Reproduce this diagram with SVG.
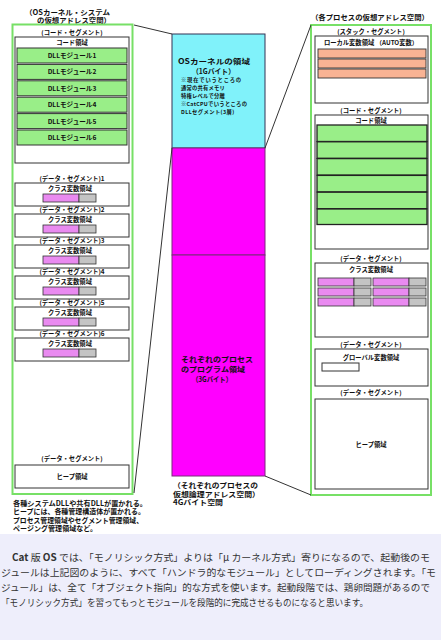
<svg xmlns="http://www.w3.org/2000/svg" width="441" height="640" viewBox="0 0 441 640">
<style>
text{font-family:"Noto Sans CJK JP","Noto Sans",sans-serif;fill:#111;}
.t{font-size:7.2px;font-weight:bold;}
.s{font-size:6.3px;font-weight:bold;text-anchor:middle;}
.m{font-size:6.6px;font-weight:bold;text-anchor:middle;}
.k{font-size:5.3px;font-weight:bold;}
.outer{fill:#fff;stroke:#77E066;stroke-width:2;}
.box{fill:#fff;stroke:#333;stroke-width:1;}
.dll{fill:#99EE88;stroke:#333;stroke-width:1;}
.cb{fill:#99EE88;stroke:#222;stroke-width:1.3;}
.pk{fill:#E98AF0;stroke:#333;stroke-width:0.8;}
.gr{fill:#C4C4C4;stroke:#333;stroke-width:0.8;}
.or{fill:#F8B394;stroke:#333;stroke-width:0.9;}
.p{font-size:9.6px;fill:#333;}
.c line{stroke:#333;stroke-width:1;}
</style>
<rect width="441" height="640" fill="#fff"/>

<g id="left-space">
<text class="t" x="25" y="14.5" textLength="85" lengthAdjust="spacingAndGlyphs">（OSカーネル・システム</text>
<text class="t" x="37" y="23" textLength="74" lengthAdjust="spacingAndGlyphs">の仮想アドレス空間）</text>
<rect class="outer" x="12.5" y="24.5" width="120" height="469.5"/>
<text class="s" x="72" y="35">(コード・セグメント)</text>
<rect class="box" x="15" y="37" width="114" height="126"/>
<text class="s" x="72" y="44.5">コード領域</text>
<g id="dll-modules">
<rect class="dll" x="17" y="48" width="110" height="15"/><text class="m" x="72" y="58">DLLモジュール1</text>
<rect class="dll" x="17" y="64.4" width="110" height="15"/><text class="m" x="72" y="74.4">DLLモジュール2</text>
<rect class="dll" x="17" y="80.8" width="110" height="15"/><text class="m" x="72" y="90.8">DLLモジュール3</text>
<rect class="dll" x="17" y="97.2" width="110" height="15"/><text class="m" x="72" y="107.2">DLLモジュール4</text>
<rect class="dll" x="17" y="113.6" width="110" height="15"/><text class="m" x="72" y="123.6">DLLモジュール5</text>
<rect class="dll" x="17" y="130" width="110" height="15"/><text class="m" x="72" y="140">DLLモジュール6</text>
</g>
<g id="data-segments">
<text class="s" x="72" y="181">(データ・セグメント)1</text>
<rect class="box" x="15" y="183" width="114" height="23"/><text class="s" x="70" y="190.5">クラス変数領域</text>
<rect class="pk" x="43" y="194" width="36" height="8"/><rect class="gr" x="79" y="194" width="17" height="8"/>
<text class="s" x="72" y="212">(データ・セグメント)2</text>
<rect class="box" x="15" y="214" width="114" height="23"/><text class="s" x="70" y="221.5">クラス変数領域</text>
<rect class="pk" x="43" y="225" width="36" height="8"/><rect class="gr" x="79" y="225" width="17" height="8"/>
<text class="s" x="72" y="243">(データ・セグメント)3</text>
<rect class="box" x="15" y="245" width="114" height="23"/><text class="s" x="70" y="252.5">クラス変数領域</text>
<rect class="pk" x="43" y="256" width="36" height="8"/><rect class="gr" x="79" y="256" width="17" height="8"/>
<text class="s" x="72" y="274">(データ・セグメント)4</text>
<rect class="box" x="15" y="276" width="114" height="23"/><text class="s" x="70" y="283.5">クラス変数領域</text>
<rect class="pk" x="43" y="287" width="36" height="8"/><rect class="gr" x="79" y="287" width="17" height="8"/>
<text class="s" x="72" y="305">(データ・セグメント)5</text>
<rect class="box" x="15" y="307" width="114" height="23"/><text class="s" x="70" y="314.5">クラス変数領域</text>
<rect class="pk" x="43" y="318" width="36" height="8"/><rect class="gr" x="79" y="318" width="17" height="8"/>
<text class="s" x="72" y="336">(データ・セグメント)6</text>
<rect class="box" x="15" y="338" width="114" height="23"/><text class="s" x="70" y="345.5">クラス変数領域</text>
<rect class="pk" x="43" y="349" width="36" height="8"/><rect class="gr" x="79" y="349" width="17" height="8"/>
</g>
<text class="s" x="72" y="460.5">(データ・セグメント)</text>
<rect class="box" x="15" y="465" width="114" height="23"/>
<text class="s" x="72" y="479">ヒープ領域</text>
</g>

<g id="notes">
<text class="t" font-size="6" x="13" y="505.5" textLength="134" lengthAdjust="spacingAndGlyphs">各種システムDLLや共有DLLが置かれる。</text>
<text class="t" font-size="6" x="13" y="514" textLength="132" lengthAdjust="spacingAndGlyphs">ヒープには、各種管理構造体が置かれる。</text>
<text class="t" font-size="6" x="13" y="522.5" textLength="130" lengthAdjust="spacingAndGlyphs">プロセス管理領域やセグメント管理領域、</text>
<text class="t" font-size="6" x="13" y="531" textLength="84" lengthAdjust="spacingAndGlyphs">ページング管理領域など。</text>
</g>

<g id="center-space">
<rect x="172" y="34" width="93" height="114" fill="#80F2FA" stroke="#335" stroke-width="1"/>
<text class="t" font-size="8" x="178" y="64" textLength="72" lengthAdjust="spacingAndGlyphs">OSカーネルの領域</text>
<text class="t" font-size="7.4" x="192" y="74" textLength="43" lengthAdjust="spacingAndGlyphs">（1Gバイト）</text>
<text class="k" x="181" y="82" letter-spacing="0.8">※現在でいうところの</text>
<text class="k" x="181" y="90" letter-spacing="0.2">通常の共有メモリ</text>
<text class="k" x="181" y="98" letter-spacing="0.2">特権レベルで分離</text>
<text class="k" x="181" y="106" letter-spacing="0.3">※CatCPUでいうところの</text>
<text class="k" x="181" y="114" letter-spacing="0.4">DLLセグメント(3層)</text>
<rect x="172" y="148" width="93" height="107" fill="#FF00FF" stroke="#7A2A7A" stroke-width="1"/>
<rect x="172" y="255" width="93" height="221" fill="#FF00FF" stroke="#7A2A7A" stroke-width="1"/>
<text class="t" font-size="7" x="181" y="362" fill="#222" textLength="72" lengthAdjust="spacingAndGlyphs">それぞれのプロセス</text>
<text class="t" font-size="7" x="181" y="371.5" fill="#222" textLength="64" lengthAdjust="spacingAndGlyphs">のプログラム領域</text>
<text class="t" font-size="6.8" x="192" y="381.5" fill="#333" textLength="40" lengthAdjust="spacingAndGlyphs">（3Gバイト）</text>
<text class="t" font-size="6" x="173" y="488" textLength="85" lengthAdjust="spacingAndGlyphs">（それぞれのプロセスの</text>
<text class="t" font-size="6" x="173" y="496.5" textLength="87" lengthAdjust="spacingAndGlyphs">仮想論理アドレス空間）</text>
<text class="t" font-size="6" x="173" y="505" textLength="50" lengthAdjust="spacingAndGlyphs">4Gバイト空間</text>
</g>

<g id="right-space">
<text class="t" x="311" y="20" textLength="118" lengthAdjust="spacingAndGlyphs">（各プロセスの仮想アドレス空間）</text>
<rect class="outer" x="311" y="25" width="120" height="470"/>
<text class="s" x="371" y="33.5">(スタック・セグメント)</text>
<rect class="box" x="315" y="36" width="113" height="67"/>
<text class="s" x="371" y="44.5">ローカル変数領域 （AUTO変数）</text>
<rect class="or" x="318" y="49" width="108" height="9"/>
<rect class="or" x="318" y="59" width="108" height="9"/>
<rect class="or" x="318" y="69" width="108" height="9"/>
<text class="s" x="371" y="112.5">(コード・セグメント)</text>
<rect class="box" x="315" y="115" width="113" height="134"/>
<text class="s" x="371" y="122.5">コード領域</text>
<rect class="cb" x="317" y="125" width="110" height="16.5"/>
<rect class="cb" x="317" y="141.8" width="110" height="16.5"/>
<rect class="cb" x="317" y="158.6" width="110" height="16.5"/>
<rect class="cb" x="317" y="175.4" width="110" height="16.5"/>
<rect class="cb" x="317" y="192.2" width="110" height="16.5"/>
<rect class="cb" x="317" y="209" width="110" height="15.5"/>
<text class="s" x="371" y="260.5">(データ・セグメント)</text>
<rect class="box" x="315" y="263" width="113" height="74"/>
<text class="s" x="371" y="271.5">クラス変数領域</text>
<rect class="pk" x="318" y="278" width="36" height="8"/><rect class="gr" x="354" y="278" width="17" height="8"/>
<rect class="pk" x="373" y="278" width="36" height="8"/><rect class="gr" x="409" y="278" width="17" height="8"/>
<rect class="pk" x="318" y="288" width="36" height="8"/><rect class="gr" x="354" y="288" width="17" height="8"/>
<rect class="pk" x="373" y="288" width="36" height="8"/><rect class="gr" x="409" y="288" width="17" height="8"/>
<rect class="pk" x="318" y="298" width="36" height="8"/><rect class="gr" x="354" y="298" width="17" height="8"/>
<rect class="pk" x="373" y="298" width="36" height="8"/><rect class="gr" x="409" y="298" width="17" height="8"/>
<text class="s" x="371" y="346.5">(データ・セグメント)</text>
<rect class="box" x="315" y="349" width="113" height="37"/>
<text class="s" x="371" y="359.5">グローバル変数領域</text>
<rect class="box" x="322" y="363" width="37" height="8"/>
<text class="s" x="371" y="394.5">(データ・セグメント)</text>
<rect class="box" x="315" y="399" width="113" height="90"/>
<text class="s" x="371" y="446.5">ヒープ領域</text>
</g>

<g id="connectors" class="c">
<line x1="134" y1="25" x2="172" y2="34"/>
<line x1="134" y1="493" x2="172" y2="148"/>
<line x1="265" y1="148" x2="311" y2="25"/>
<line x1="265" y1="476" x2="311" y2="495"/>
</g>

<g id="description">
<rect x="0" y="534" width="441" height="106" fill="#EEEEFB"/>
<text class="p" x="12" y="561" textLength="418" lengthAdjust="spacingAndGlyphs"><tspan font-weight="bold">Cat</tspan> 版 <tspan font-weight="bold">OS</tspan> では、「モノリシック方式」よりは「μ カーネル方式」寄りになるので、起動後のモ</text>
<text class="p" x="1" y="576" textLength="435" lengthAdjust="spacingAndGlyphs">ジュールは上記図のように、すべて「ハンドラ的なモジュール」としてローディングされます。「モ</text>
<text class="p" x="1" y="591" textLength="429" lengthAdjust="spacingAndGlyphs">ジュール」は、全て「オブジェクト指向」的な方式を使います。起動段階では、鶏卵問題があるので</text>
<text class="p" x="1" y="606" textLength="367" lengthAdjust="spacingAndGlyphs">「モノリシック方式」を習ってもっとモジュールを段階的に完成させるものになると思います。</text>
</g>
</svg>
